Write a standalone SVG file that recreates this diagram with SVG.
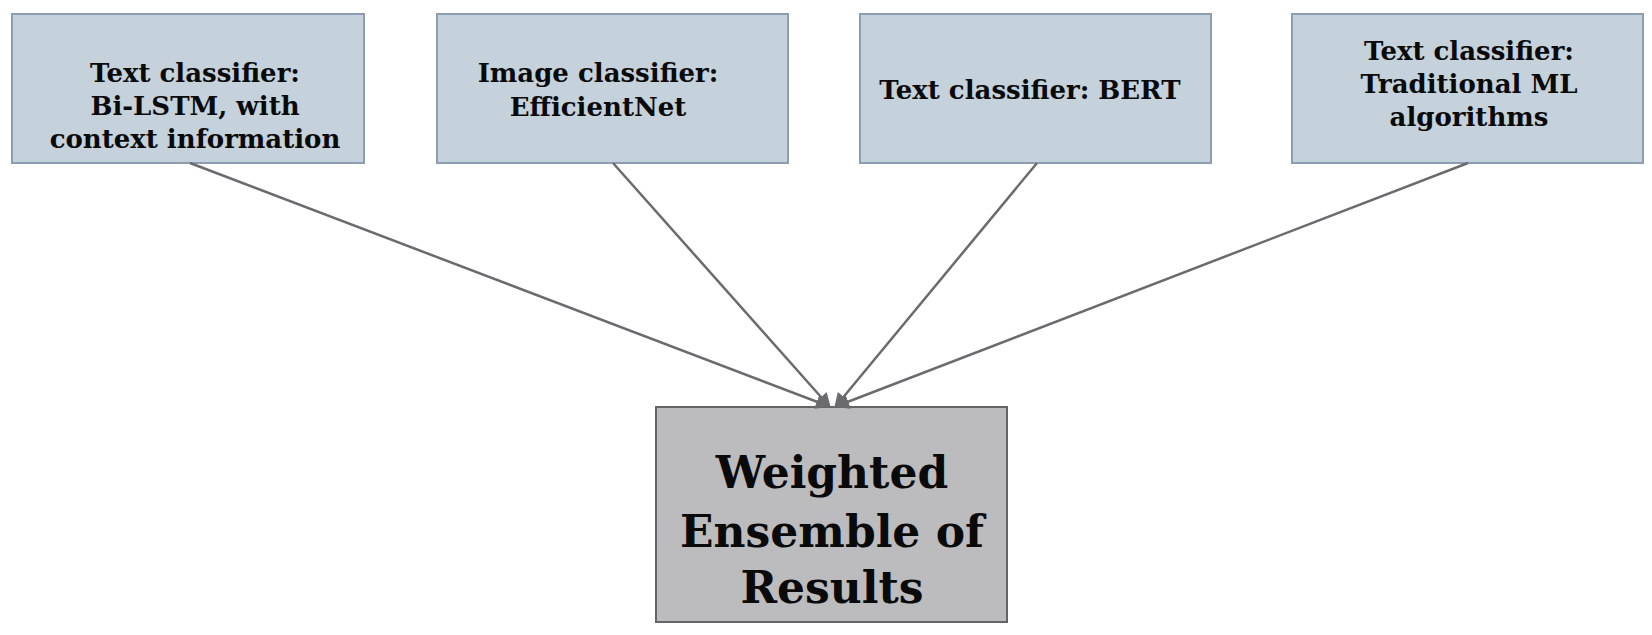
<svg xmlns="http://www.w3.org/2000/svg" width="1652" height="635" viewBox="0 0 1652 635">
<style>
.top{fill:#c5d1db;stroke:#8c9db0;stroke-width:2}
.bot{fill:#bcbcbe;stroke:#646466;stroke-width:2}
.t{font-family:"DejaVu Serif","Liberation Serif",serif;font-weight:bold;font-size:26px;fill:#0a0a0a;text-anchor:middle}
.b{font-family:"DejaVu Serif","Liberation Serif",serif;font-weight:bold;font-size:44px;fill:#0a0a0a;text-anchor:middle}
.c{stroke:#6b6b6d;stroke-width:2.5;fill:none;marker-end:url(#ah)}
</style>
<defs>
<marker id="ah" viewBox="0 0 10 10" refX="8" refY="5" markerWidth="6" markerHeight="6" orient="auto" markerUnits="strokeWidth">
<path d="M0,0 L10,5 L0,10 z" fill="#6b6b6d"/>
</marker>
</defs>
<rect width="1652" height="635" fill="#fff"/>
<g id="n1">
<rect class="top" x="12" y="14" width="352" height="149"/>
<text class="t" x="195" y="82">Text classifier:</text>
<text class="t" x="195" y="115">Bi-LSTM, with</text>
<text class="t" x="195" y="148">context information</text>
</g>
<g id="n2">
<rect class="top" x="437" y="14" width="351" height="149"/>
<text class="t" x="598" y="82">Image classifier:</text>
<text class="t" x="598" y="116">EfficientNet</text>
</g>
<g id="n3">
<rect class="top" x="860" y="14" width="351" height="149"/>
<text class="t" x="1030" y="99">Text classifier: BERT</text>
</g>
<g id="n4">
<rect class="top" x="1292" y="14" width="351" height="149"/>
<text class="t" x="1469" y="60">Text classifier:</text>
<text class="t" x="1469" y="93">Traditional ML</text>
<text class="t" x="1469" y="126">algorithms</text>
</g>
<g id="n5">
<rect class="bot" x="656" y="407" width="351" height="215"/>
<text class="b" x="832" y="488">Weighted</text>
<text class="b" x="832" y="547">Ensemble of</text>
<text class="b" x="832" y="603">Results</text>
</g>
<g id="connectors">
<line class="c" x1="190" y1="163" x2="828" y2="406"/>
<line class="c" x1="613" y1="163" x2="829" y2="406"/>
<line class="c" x1="1037" y1="163" x2="836" y2="406"/>
<line class="c" x1="1468" y1="163" x2="837" y2="406"/>
</g>
</svg>
